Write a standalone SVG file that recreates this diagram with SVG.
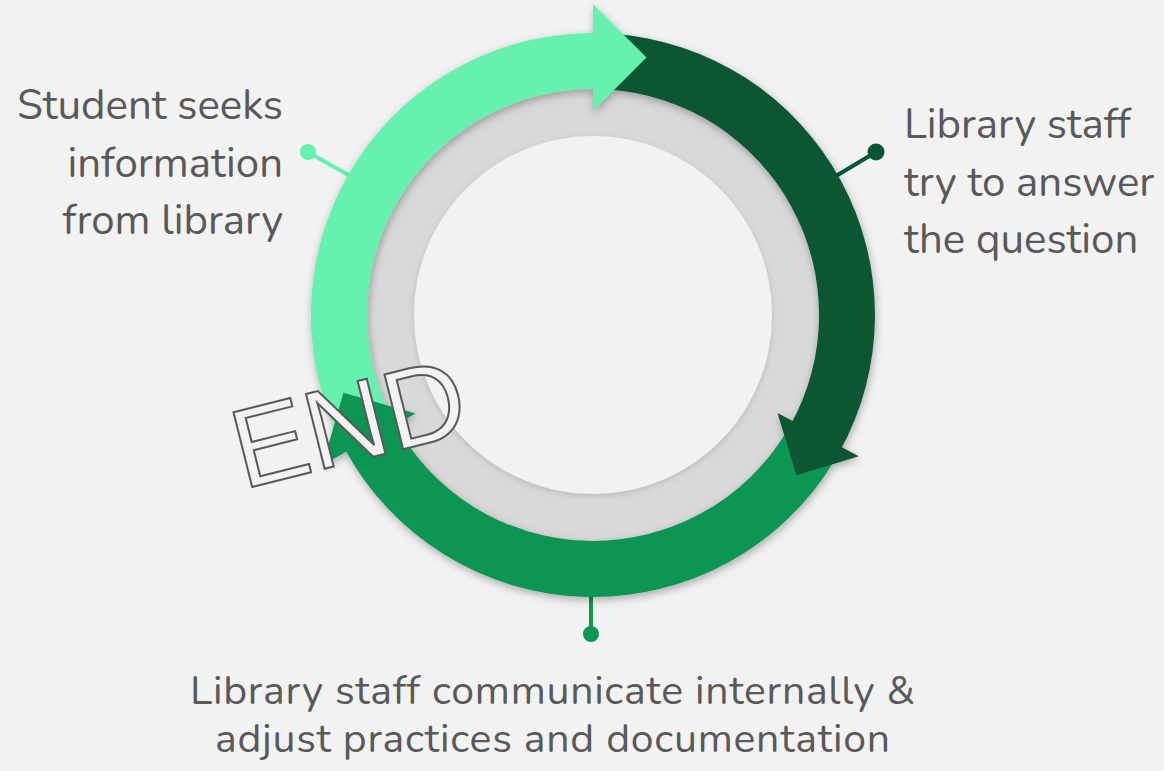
<svg xmlns="http://www.w3.org/2000/svg" width="1164" height="771" viewBox="0 0 1164 771">
  <style>
    .label { font-family: Nunito, Lato, "Open Sans", sans-serif; font-size: 42px; fill: #595959; }
    .label-sm { font-size: 41px; }
    .end { font-family: "Liberation Sans", Arial, sans-serif; font-size: 112px; fill: #f2f2f2; stroke: #595959; stroke-width: 2; }
    .lead { stroke-width: 4; fill: none; }
    .seek { fill: #66f2ae; }
    .answer { fill: #085632; }
    .adjust { fill: #0f9652; }
  </style>
  <defs>
    <filter id="softShadow" x="-20%" y="-20%" width="140%" height="140%">
      <feDropShadow dx="1" dy="3" stdDeviation="4" flood-color="#000000" flood-opacity="0.3"/>
    </filter>
    <filter id="ringShadow" x="-20%" y="-20%" width="140%" height="140%">
      <feDropShadow dx="0" dy="2" stdDeviation="3" flood-color="#000000" flood-opacity="0.15"/>
    </filter>
  </defs>

  <!-- background -->
  <rect x="0" y="0" width="1164" height="771" fill="#f2f2f2"/>

  <!-- connectors: leader lines with end dots -->
  <g id="connectors">
    <line class="lead" x1="308" y1="152" x2="350" y2="176" stroke="#66f2ae"/>
    <circle cx="308" cy="152" r="8" fill="#66f2ae"/>
    <line class="lead" x1="876" y1="152" x2="836" y2="176" stroke="#085632"/>
    <circle cx="876" cy="152" r="8.5" fill="#085632"/>
    <line class="lead" x1="591" y1="590" x2="591" y2="634" stroke="#0f9652"/>
    <circle cx="591" cy="634" r="8" fill="#0f9652"/>
  </g>

  <!-- grey hub ring -->
  <g id="hub">
    <circle cx="593" cy="315" r="228" fill="#d9d9d9"/>
    <circle cx="593" cy="315" r="179" fill="#f2f2f2" filter="url(#ringShadow)"/>
  </g>

  <!-- cycle arrows: arc bodies first, then heads so each head sits over the next arc -->
  <g id="cycle" filter="url(#softShadow)">
    <g id="step-seek-body">
      <path class="seek" d="M337.4,434.2 A282,282 0 0 1 597.9,33.0 L596.9,89.0 A226,226 0 0 0 388.2,410.5 Z"/>
    </g>
    <g id="step-answer-body">
      <path class="answer" d="M612.7,33.7 A282,282 0 0 1 839.6,451.7 L790.7,424.6 A226,226 0 0 0 608.8,89.5 Z"/>
    </g>
    <g id="step-adjust-body">
      <path class="adjust" d="M834.7,460.2 A282,282 0 0 1 344.0,447.4 L393.5,421.1 A226,226 0 0 0 786.7,431.4 Z"/>
    </g>
    <g id="step-seek-head">
      <path class="seek" d="M593,4 L646.5,57.5 L593,111 Z"/>
    </g>
    <g id="step-answer-head">
      <path class="answer" d="M858.8,456.3 L796.5,475.3 L777.5,413.1 Z"/>
    </g>
    <g id="step-adjust-head">
      <path class="adjust" d="M322.7,464.8 L343.4,392.7 L415.5,413.4 Z"/>
    </g>
  </g>

  <!-- labels -->
  <g id="label-seek">
    <text class="label" x="283" y="119" text-anchor="end">Student seeks</text>
    <text class="label" x="283" y="177" text-anchor="end">information</text>
    <text class="label" x="283" y="234" text-anchor="end">from library</text>
  </g>
  <g id="label-answer">
    <text class="label" x="904" y="138">Library staff</text>
    <text class="label" x="904" y="196">try to answer</text>
    <text class="label" x="904" y="253">the question</text>
  </g>
  <g id="label-adjust">
    <text class="label label-sm" x="552.5" y="704" text-anchor="middle" textLength="725">Library staff communicate internally &amp;</text>
    <text class="label label-sm" x="552.5" y="752" text-anchor="middle" textLength="675">adjust practices and documentation</text>
  </g>

  <!-- end marker -->
  <g id="end-mark" transform="translate(252,487) rotate(-14)">
    <text class="end" x="-9" y="0">END</text>
  </g>
</svg>
